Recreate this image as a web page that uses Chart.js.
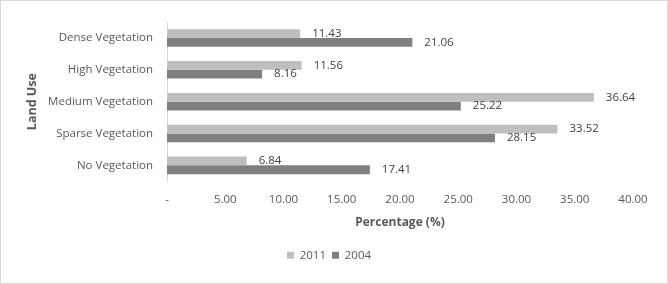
<!DOCTYPE html>
<html>
<head>
<meta charset="utf-8">
<script src="https://cdn.jsdelivr.net/npm/chart.js@4/dist/chart.umd.min.js"></script>
<style>
  html, body { margin: 0; padding: 0; background: #fff; }
  #wrap { position: relative; width: 668px; height: 284px; box-sizing: border-box; border: 1px solid #d9d9d9; }
  #chart { position: absolute; left: 0; top: 0; }
</style>
</head>
<body>
<div id="wrap"><canvas id="chart" width="668" height="284"></canvas></div>
<script>
let landUseLabels = ["Dense Vegetation", "High Vegetation", "Medium Vegetation", "Sparse Vegetation", "No Vegetation"];
let values2011 = [11.43, 11.56, 36.64, 33.52, 6.84];
let values2004 = [21.06, 8.16, 25.22, 28.15, 17.41];
let xTicks = [0, 5, 10, 15, 20, 25, 30, 35, 40];

const textColor = "#595959";
const fontFamily = "'Open Sans', 'Noto Sans', sans-serif";

// draws the value next to the end of each bar
const barValueLabels = {
  id: "barValueLabels",
  afterDatasetsDraw(chart) {
    const ctx = chart.ctx;
    ctx.save();
    ctx.font = "11.5px " + fontFamily;
    ctx.fillStyle = "#404040";
    ctx.textAlign = "left";
    ctx.textBaseline = "middle";
    chart.data.datasets.forEach((ds, i) => {
      chart.getDatasetMeta(i).data.forEach((bar, j) => {
        ctx.fillText(ds.data[j].toFixed(2), bar.x + 12, bar.y);
      });
    });
    ctx.restore();
  },
};

function creatingGraph() {
  let ctx = document.getElementById("chart").getContext("2d");
  new Chart(ctx, {
    type: "bar",
    data: {
      labels: landUseLabels,
      datasets: [
        {
          label: "2011",
          data: values2011,
          backgroundColor: "#bfbfbf",
          barPercentage: 1,
          categoryPercentage: 0.55,
        },
        {
          label: "2004",
          data: values2004,
          backgroundColor: "#7f7f7f",
          barPercentage: 1,
          categoryPercentage: 0.55,
        },
      ],
    },
    options: {
      indexAxis: "y",
      responsive: false,
      animation: false,
      layout: { padding: { left: 24, right: 36, top: 21, bottom: 14 } },
      plugins: {
        tooltip: { enabled: false },
        legend: {
          position: "bottom",
          labels: {
            boxWidth: 7,
            boxHeight: 7,
            padding: 6,
            color: textColor,
            font: { family: fontFamily, size: 11.5 },
          },
        },
      },
      scales: {
        x: {
          min: 0,
          max: 40,
          afterBuildTicks: (s) => { s.ticks = xTicks.map((v) => ({ value: v })); },
          afterFit: (s) => { s.height = s.height + 4; },
          grid: { display: false },
          border: { display: false },
          ticks: {
            color: textColor,
            padding: 4,
            font: { family: fontFamily, size: 11.5 },
            callback: (v) => (v === 0 ? "-" : v.toFixed(2)),
          },
          title: {
            display: true,
            text: "Percentage (%)",
            color: textColor,
            padding: { top: 0, bottom: 14 },
            font: { family: fontFamily, size: 12, weight: "bold" },
          },
        },
        y: {
          grid: { display: false },
          border: { display: true, color: "#d9d9d9" },
          afterFit: (s) => { s.width = 142; },
          ticks: {
            color: textColor,
            padding: 6,
            font: { family: fontFamily, size: 11.5 },
          },
          title: {
            display: true,
            text: "Land Use",
            color: textColor,
            padding: 0,
            font: { family: fontFamily, size: 12.5, weight: "bold" },
          },
        },
      },
    },
    plugins: [barValueLabels],
  });
}
window.addEventListener("load", creatingGraph);
</script>
</body>
</html>
